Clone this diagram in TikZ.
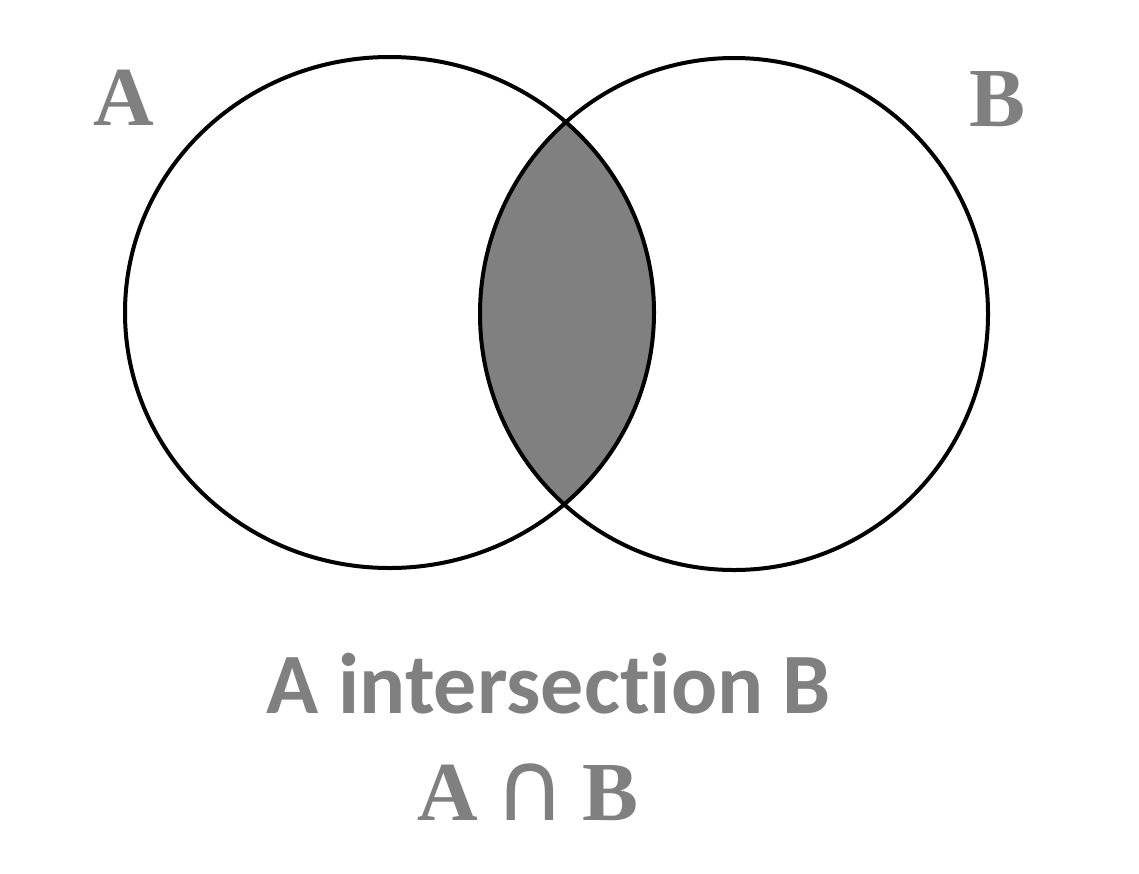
\documentclass[tikz,border=0pt]{standalone}
\usepackage{fontspec}
\setmainfont{Liberation Serif}
\newfontfamily\capfont[Ligatures={NoCommon,NoContextual},RawFeature={-liga;-clig;-dlig}]{Carlito}
\newfontfamily\capsym{DejaVu Sans}
\definecolor{setgray}{HTML}{808080}
\tikzset{
  setline/.style={draw=black,line width=4pt},
  setname/.style={anchor=base,text=setgray,font=\fontsize{84}{84}\selectfont\bfseries,inner sep=0pt},
  caption/.style={anchor=base,text=setgray,font=\capfont\fontsize{86}{86}\selectfont\bfseries,inner sep=0pt}
}
\begin{document}
\begin{tikzpicture}[x=1pt,y=-1pt]
            \useasboundingbox (0,0) rectangle (1139,873);
            % shaded overlap
            \begin{scope}
              \clip (389.5,312.5) ellipse [x radius=264.5,y radius=255.5];
              \fill[setgray] (734,314) ellipse [x radius=254,y radius=256];
            \end{scope}
            \draw[setline] (389.5,312.5) ellipse [x radius=264.5,y radius=255.5];
            \draw[setline] (734,314) ellipse [x radius=254,y radius=256];

            \node[setname] (A) at (124,125) {A};
            \node[setname] (B) at (997,126) {B};
            \node[caption] (name) at (549,713) {A intersection B};
            \node[setname] (sym) at (528,820) {A\hspace{16pt}{\capsym\mdseries\fontsize{98}{98}\selectfont ∩}\hspace{16pt}B};
\end{tikzpicture}
\end{document}
